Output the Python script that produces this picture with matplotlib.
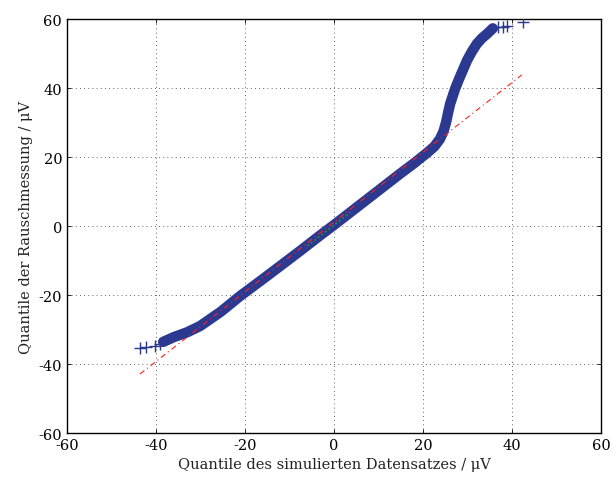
# -*- coding: utf-8 -*-
import numpy as np
import matplotlib
matplotlib.use('Agg')
import matplotlib.pyplot as plt

# Quantile - dichter Teil der Kurve
band_x = [-38.4, -36.0, -33.0, -30.1, -25.5, -21.1, -16.0, -12.1, -7.6, -3.0,
          0.0, 4.0, 8.0, 12.0, 14.8, 18.0, 21.1, 22.6, 23.8, 24.6, 25.2,
          25.6, 26.1, 27.2, 28.1, 29.9, 31.0, 32.1, 33.3, 34.4, 35.7]
band_y = [-33.6, -32.2, -30.8, -29.0, -24.9, -20.3, -15.4, -11.6, -7.2, -2.6,
          0.3, 4.3, 8.3, 12.3, 15.1, 18.2, 21.4, 23.1, 25.2, 27.4, 30.1,
          32.6, 35.4, 39.7, 42.6, 48.0, 50.6, 52.8, 54.5, 55.7, 57.3]

# einzelne Ausreisser an den Enden
tail_x = [-43.6, -42.3, -40.2, -39.1, 36.8, 38.0, 38.8, 42.5]
tail_y = [-35.4, -35.2, -34.8, -34.2, 57.6, 57.7, 58.0, 59.0]

# Referenzgerade
ref_x = [-43.6, 42.2]
ref_y = [-42.9, 43.8]
# Quartilabschnitt
iqr_x = [-6.0, 3.6]
iqr_y = [-5.8, 3.9]

ticks = [-60, -40, -20, 0, 20, 40, 60]

plt.rcParams['font.family'] = ['DejaVu Serif']
plt.rcParams['axes.unicode_minus'] = False
fig = plt.figure(figsize=(6.16, 4.81), dpi=100)
ax = fig.add_axes([0.1088, 0.0977, 0.8668, 0.8607])

blau = '#2b3990'
ax.plot(band_x, band_y, color=blau, lw=7.5, solid_capstyle='round',
        solid_joinstyle='round', zorder=3)
ax.plot(tail_x, tail_y, linestyle='none', marker='+', ms=9, mew=1.0,
        color=blau, zorder=3)
ax.plot(ref_x, ref_y, color='#ff2020', lw=0.8, linestyle=(0, (5, 3, 1, 3)),
        zorder=4)
ax.plot(iqr_x, iqr_y, color='#22aa22', lw=0.8, linestyle=(0, (2, 2)),
        zorder=4)

ax.set_xlim(-60, 60)
ax.set_ylim(-60, 60)
ax.set_xticks(ticks)
ax.set_yticks(ticks)
ax.grid(True, color='#333333', lw=0.6, linestyle=(0, (1, 4)))
ax.tick_params(direction='in', length=3, width=0.6, top=True, right=True,
               labelsize=10.5, colors='black')
for s in ax.spines.values():
    s.set_linewidth(1.0)

ax.set_xlabel('Quantile des simulierten Datensatzes / μV', fontsize=10.5,
              color='#222222')
ax.set_ylabel('Quantile der Rauschmessung / μV', fontsize=10.5,
              color='#222222')

fig.savefig('out.png', dpi=100)
